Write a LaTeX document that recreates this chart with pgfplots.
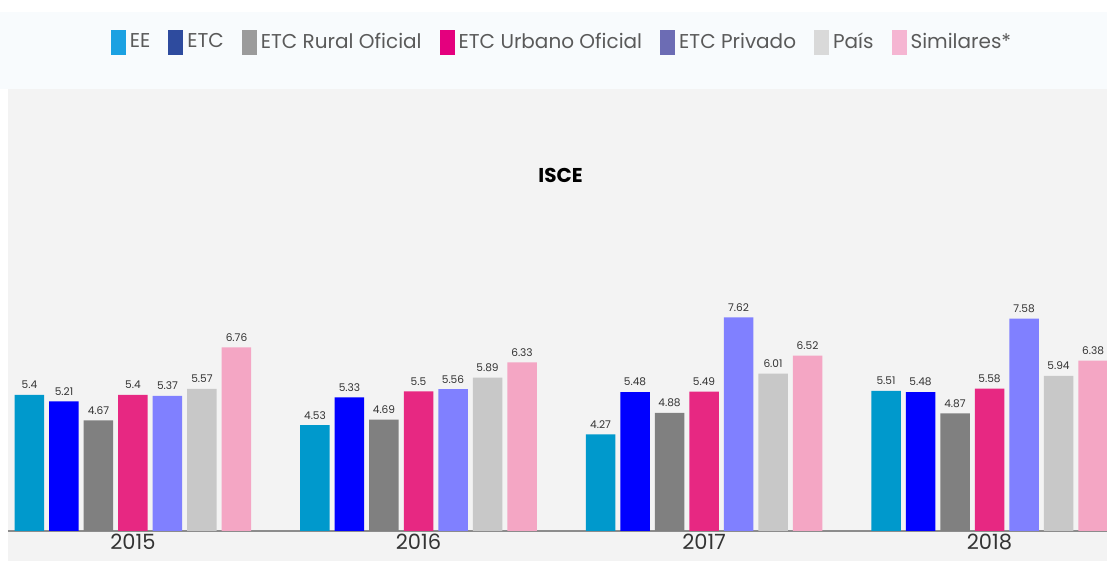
\documentclass[border=0pt]{standalone}
\usepackage{pgfplots}
\pgfplotsset{compat=1.18}
\usepackage{fontspec}
\setmainfont{Poppins}
\definecolor{cEE}{RGB}{0,153,204}
\definecolor{cETC}{RGB}{0,0,255}
\definecolor{cRur}{RGB}{128,128,128}
\definecolor{cUrb}{RGB}{231,40,130}
\definecolor{cPri}{RGB}{128,128,255}
\definecolor{cPai}{RGB}{200,200,200}
\definecolor{cSim}{RGB}{244,166,196}
\definecolor{lEE}{RGB}{27,161,226}
\definecolor{lETC}{RGB}{46,75,158}
\definecolor{lRur}{RGB}{155,155,155}
\definecolor{lUrb}{RGB}{228,0,126}
\definecolor{lPri}{RGB}{108,108,180}
\definecolor{lPai}{RGB}{217,217,217}
\definecolor{lSim}{RGB}{245,181,210}
\definecolor{bgGrey}{RGB}{243,243,243}
\definecolor{topBand}{RGB}{248,251,253}
\definecolor{txt}{RGB}{51,51,51}
\definecolor{legtxt}{RGB}{90,90,90}
\pgfplotsset{
  sw/.style={legend image code/.code={\fill[##1,draw=none] (0pt,-6.25pt) rectangle (7.5pt,6.25pt);}},
}
\begin{document}
\begin{tikzpicture}[x=1pt,y=1pt]
\path[use as bounding box] (0,0) rectangle (553.5,280.5);
\fill[topBand] (0,236) rectangle (553.5,274.5);
\fill[bgGrey] (4,0) rectangle (553.5,236);
\begin{axis}[
  at={(4pt,15pt)}, anchor=south west,
  scale only axis, width=549.5pt, height=221pt,
  xmin=-0.4378, xmax=3.4116,
  ymin=1.5, ymax=14.16,
  ybar, bar width=14.75pt,
  axis x line=bottom, axis line style={draw=gray!90, line width=0.6pt, -},
  hide y axis,
  xtick={0,1,2,3}, xticklabels={2015,2016,2017,2018},
  major tick length=0pt,
  xticklabel style={font=\fontsize{10.5}{12}\selectfont, text=txt, inner sep=0pt, yshift=-1.5pt},
  /pgf/number format/assume math mode=true,
  nodes near coords,
  every node near coord/.append style={font=\fontsize{5.3}{6}\selectfont, text=txt, inner sep=0pt, yshift=2.8pt},
  title={\bfseries ISCE},
  title style={at={(0.5027,0.777)}, anchor=center, font=\fontsize{10}{12}\selectfont, text=black},
  legend columns=7,
  legend style={at={(0.505,1.1063)}, anchor=center, draw=none, fill=none,
    font=\fontsize{10}{12}\selectfont, text=legtxt,
    /tikz/every even column/.append style={column sep=7pt},
    nodes={inner xsep=2pt, inner ysep=0pt}},
  clip=false,
]
\addplot[fill=cEE, draw=none, bar shift=-51.75pt, forget plot] coordinates {(0,5.4) (1,4.53) (2,4.27) (3,5.51)};
\addplot[fill=cETC, draw=none, bar shift=-34.5pt, forget plot] coordinates {(0,5.21) (1,5.33) (2,5.48) (3,5.48)};
\addplot[fill=cRur, draw=none, bar shift=-17.25pt, forget plot] coordinates {(0,4.67) (1,4.69) (2,4.88) (3,4.87)};
\addplot[fill=cUrb, draw=none, bar shift=0pt, forget plot] coordinates {(0,5.4) (1,5.5) (2,5.49) (3,5.58)};
\addplot[fill=cPri, draw=none, bar shift=17.25pt, forget plot] coordinates {(0,5.37) (1,5.56) (2,7.62) (3,7.58)};
\addplot[fill=cPai, draw=none, bar shift=34.5pt, forget plot] coordinates {(0,5.57) (1,5.89) (2,6.01) (3,5.94)};
\addplot[fill=cSim, draw=none, bar shift=51.75pt, forget plot] coordinates {(0,6.76) (1,6.33) (2,6.52) (3,6.38)};
\addlegendimage{sw, fill=lEE}\addlegendentry{EE}
\addlegendimage{sw, fill=lETC}\addlegendentry{ETC}
\addlegendimage{sw, fill=lRur}\addlegendentry{ETC Rural Oficial}
\addlegendimage{sw, fill=lUrb}\addlegendentry{ETC Urbano Oficial}
\addlegendimage{sw, fill=lPri}\addlegendentry{ETC Privado}
\addlegendimage{sw, fill=lPai}\addlegendentry{País}
\addlegendimage{sw, fill=lSim}\addlegendentry{Similares*}
\end{axis}
\end{tikzpicture}
\end{document}
